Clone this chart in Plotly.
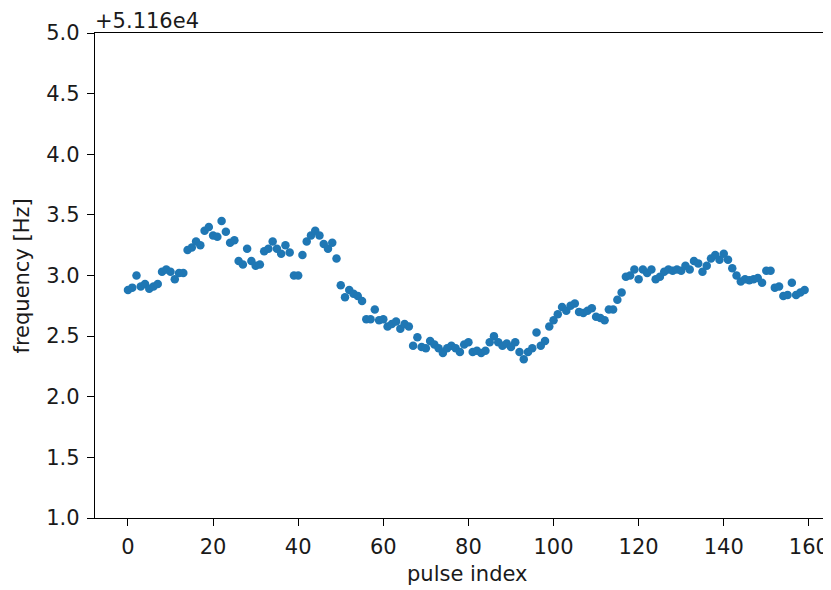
import plotly.graph_objects as go

offset_label = "+5.116e4"
pulse_index = list(range(160))
freq_delta = [
    2.88, 2.90, 3.00, 2.91, 2.93, 2.89, 2.91, 2.93, 3.03, 3.05,
    3.03, 2.97, 3.02, 3.02, 3.21, 3.23, 3.28, 3.25, 3.37, 3.40,
    3.33, 3.32, 3.45, 3.36, 3.27, 3.29, 3.12, 3.09, 3.22, 3.12,
    3.08, 3.09, 3.20, 3.22, 3.28, 3.22, 3.18, 3.25, 3.19, 3.00,
    3.00, 3.17, 3.28, 3.33, 3.37, 3.33, 3.26, 3.22, 3.27, 3.14,
    2.92, 2.82, 2.88, 2.85, 2.83, 2.79, 2.64, 2.64, 2.72, 2.63,
    2.64, 2.58, 2.60, 2.62, 2.56, 2.60, 2.58, 2.42, 2.49, 2.41,
    2.40, 2.46, 2.43, 2.40, 2.36, 2.40, 2.42, 2.40, 2.37, 2.43,
    2.45, 2.37, 2.38, 2.36, 2.38, 2.45, 2.50, 2.45, 2.42, 2.44,
    2.41, 2.45, 2.37, 2.31, 2.37, 2.40, 2.53, 2.42, 2.46, 2.58,
    2.63, 2.68, 2.74, 2.71, 2.75, 2.77, 2.70, 2.69, 2.71, 2.73,
    2.66, 2.65, 2.63, 2.72, 2.72, 2.80, 2.86, 2.99, 3.00, 3.05,
    2.97, 3.05, 3.02, 3.05, 2.97, 2.99, 3.03, 3.05, 3.04, 3.05,
    3.04, 3.08, 3.05, 3.12, 3.10, 3.03, 3.08, 3.14, 3.17, 3.13,
    3.18, 3.13, 3.06, 3.00, 2.95, 2.97, 2.96, 2.97, 2.98, 2.94,
    3.04, 3.04, 2.90, 2.91, 2.83, 2.84, 2.94, 2.84, 2.86, 2.88,
]
x_ticks = [0, 20, 40, 60, 80, 100, 120, 140, 160]
y_ticks = [1.0, 1.5, 2.0, 2.5, 3.0, 3.5, 4.0, 4.5, 5.0]

font = dict(family="DejaVu Sans", size=21, color="#1a1a1a")

fig = go.Figure(go.Scatter(
    x=pulse_index, y=freq_delta, mode="markers",
    marker=dict(color="#1f77b4", size=8.5, line=dict(width=0)),
))

axis_common = dict(
    showgrid=False, zeroline=False, showline=True, linecolor="black", linewidth=1.4,
    ticks="outside", ticklen=7, tickwidth=1.4, tickcolor="black",
    tickfont=font, automargin=False, ticklabelstandoff=3,
)
# page has an 8px body margin, so the figure is smaller and shifted
fig.update_layout(
    width=823, height=582,
    margin=dict(l=87, r=0, t=25, b=72, autoexpand=False),
    paper_bgcolor="white", plot_bgcolor="white",
    showlegend=False,
    font=font,
    xaxis=dict(axis_common, range=[-7.75, 165.2], tickvals=x_ticks,
               ticktext=[str(v) for v in x_ticks], mirror=True),
    yaxis=dict(axis_common, range=[1.0, 5.0], tickvals=y_ticks,
               ticktext=[f"{v:.1f}" for v in y_ticks]),
    annotations=[
        dict(text=offset_label, xref="paper", yref="paper", x=0, y=1,
             xanchor="left", yanchor="bottom", showarrow=False,
             font=font, xshift=-2, yshift=-2),
        dict(text="pulse index", xref="paper", yref="paper", x=0.5054, y=-0.1155,
             xanchor="center", yanchor="middle", showarrow=False, font=font),
        dict(text="frequency [Hz]", xref="paper", yref="paper", x=-0.0992, y=0.5,
             xanchor="center", yanchor="middle", showarrow=False, font=font,
             textangle=-90),
    ],
)
fig.write_html("out.html")
